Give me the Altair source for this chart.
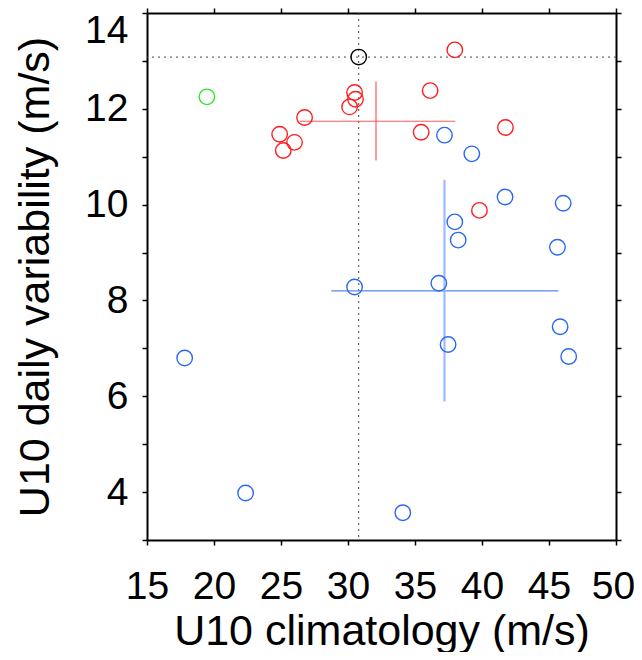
import altair as alt
import pandas as pd

# ---- data ----
red_x = [37.97, 36.13, 30.49, 30.56, 30.12, 26.76, 24.90, 26.01, 25.17, 35.46, 41.75, 39.81]
red_y = [13.23, 12.38, 12.34, 12.20, 12.04, 11.82, 11.47, 11.30, 11.13, 11.51, 11.61, 9.88]

blue_x = [37.20, 39.24, 41.72, 46.06, 37.97, 38.22, 45.63, 30.49, 36.78, 45.83, 37.47, 46.47, 17.81, 22.36, 34.09]
blue_y = [11.45, 11.06, 10.16, 10.03, 9.64, 9.26, 9.11, 8.28, 8.36, 7.45, 7.08, 6.83, 6.80, 3.98, 3.57]

green_x = [19.47]
green_y = [12.25]

black_x = [30.80]
black_y = [13.08]

# cross (spread) bars: group, centre x, centre y, x low, x high, y low, y high
cross_group = ["red", "blue"]
cross_cx = [32.09, 37.20]
cross_cy = [11.74, 8.20]
cross_xlo = [26.40, 28.75]
cross_xhi = [38.00, 45.70]
cross_ylo = [10.92, 5.89]
cross_yhi = [12.57, 10.52]

x_ticks = [15, 20, 25, 30, 35, 40, 45, 50]
y_ticks = list(range(3, 15))

# ---- tables ----
pts = pd.DataFrame({
    "x": red_x + blue_x + green_x + black_x,
    "y": red_y + blue_y + green_y + black_y,
    "g": ["red"] * len(red_x) + ["blue"] * len(blue_x) + ["green"] * len(green_x) + ["black"] * len(black_x),
})
cross = pd.DataFrame({"g": cross_group, "cx": cross_cx, "cy": cross_cy,
                      "xlo": cross_xlo, "xhi": cross_xhi, "ylo": cross_ylo, "yhi": cross_yhi})
ref = pd.DataFrame({"x": black_x, "y": black_y})

FONT = "Liberation Sans"
xs = alt.Scale(domain=[15, 50], nice=False, zero=False)
ys = alt.Scale(domain=[3, 14], nice=False, zero=False)

xaxis = alt.Axis(values=x_ticks, grid=False, title="U10 climatology (m/s)",
                 labelFontSize=39, titleFontSize=43, labelFont=FONT, titleFont=FONT,
                 labelColor="black", titleColor="black", titleFontWeight="normal",
                 tickSize=5, tickWidth=1.5, tickColor="black", domainColor="black", domainWidth=2,
                 labelPadding=22, labelOverlap=False, labelFlush=False,
                 labelOffset={"condition": {"test": "datum.value == 50", "value": -3}, "value": 0},
                 titleBaseline="alphabetic", titleY=104)
yaxis = alt.Axis(values=y_ticks, grid=False, title="U10 daily variability (m/s)",
                 labelExpr="datum.value % 2 == 0 ? datum.label : ''",
                 labelFontSize=39, titleFontSize=43, labelFont=FONT, titleFont=FONT,
                 labelColor="black", titleColor="black", titleFontWeight="normal",
                 tickSize=5, tickWidth=1.5, tickColor="black", domainColor="black", domainWidth=2,
                 labelPadding=14, labelOverlap=False, labelFlush=False,
                 labelOffset={"condition": {"test": "datum.value == 14", "value": 17}, "value": 0},
                 titleBaseline="alphabetic", titleX=-99)

pt_scale = alt.Scale(domain=["red", "blue", "green", "black"],
                     range=["#ff1e1e", "#2b68f0", "#2ee62e", "#000000"])
line_h_scale = alt.Scale(domain=["red", "blue"], range=["#ff5a5a", "#5a88e6"])
line_v_scale = alt.Scale(domain=["red", "blue"], range=["#ff5a5a", "#9dbcff"])

hline = alt.Chart(ref).mark_rule(color="#444444", strokeDash=[2, 4], strokeWidth=1).encode(
    y=alt.Y("y:Q", scale=ys, axis=yaxis))
vline = alt.Chart(ref).mark_rule(color="#444444", strokeDash=[2, 4], strokeWidth=1).encode(
    x=alt.X("x:Q", scale=xs, axis=xaxis))

hbar = alt.Chart(cross).mark_rule(strokeWidth=1.2).encode(
    x=alt.X("xlo:Q", scale=xs, axis=xaxis), x2="xhi:Q",
    y=alt.Y("cy:Q", scale=ys, axis=yaxis),
    stroke=alt.Stroke("g:N", scale=line_h_scale, legend=None))
vbar = alt.Chart(cross).mark_rule().encode(
    x=alt.X("cx:Q", scale=xs, axis=xaxis),
    y=alt.Y("ylo:Q", scale=ys, axis=yaxis), y2="yhi:Q",
    color=alt.Color("g:N", scale=line_v_scale, legend=None),
    strokeWidth=alt.condition("datum.g == 'blue'", alt.value(2.2), alt.value(1.2)))

points = alt.Chart(pts).mark_point(shape="circle", filled=False, size=240, strokeWidth=1.4, opacity=1).encode(
    x=alt.X("x:Q", scale=xs, axis=xaxis),
    y=alt.Y("y:Q", scale=ys, axis=yaxis),
    fill=alt.value(None),
    shape=alt.value("circle"),
    **{"stroke": alt.Stroke("g:N", scale=pt_scale, legend=None)})

main = alt.layer(hline, vline, hbar, vbar, points).resolve_scale(color="independent", stroke="independent")

frame_axis_kw = dict(grid=False, labels=False, title=None, tickSize=5, tickWidth=1.5,
                     tickColor="black", domainColor="black", domainWidth=2)
frame = alt.Chart(pd.DataFrame({"x": [15], "y": [3]})).mark_point(opacity=0).encode(
    x=alt.X("x:Q", scale=xs, axis=alt.Axis(orient="top", values=x_ticks, **frame_axis_kw)),
    y=alt.Y("y:Q", scale=ys, axis=alt.Axis(orient="right", values=y_ticks, **frame_axis_kw)))

chart = alt.layer(main, frame).resolve_axis(x="independent", y="independent").properties(
    width=469, height=527,
    autosize=alt.AutoSizeParams(type="none"),
    padding={"left": 139, "top": 5, "right": 18, "bottom": 112},
    background="white",
).configure_view(stroke=None)

chart.save("out.html", embed_options={"renderer": "svg", "actions": False})
